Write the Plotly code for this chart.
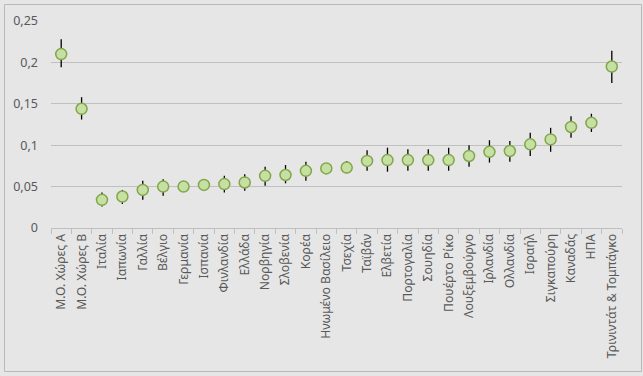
import plotly.graph_objects as go

categories = ["Μ.Ο. Χώρες Α", "Μ.Ο. Χώρες Β", "Ιταλία", "Ιαπωνία", "Γαλλία", "Βέλγιο",
              "Γερμανία", "Ισπανία", "Φινλανδία", "Ελλάδα", "Νορβηγία", "Σλοβενία", "Κορέα",
              "Ηνωμένο Βασίλειο", "Τσεχία", "Ταϊβάν", "Ελβετία", "Πορτογαλία", "Σουηδία",
              "Πουέρτο Ρίκο", "Λουξεμβούργο", "Ιρλανδία", "Ολλανδία", "Ισραήλ", "Σιγκαπούρη",
              "Καναδάς", "ΗΠΑ", "Τρινιντάτ & Τομπάγκο"]
values = [0.210, 0.144, 0.034, 0.038, 0.046, 0.050, 0.050, 0.052, 0.053, 0.055, 0.063, 0.064,
          0.069, 0.072, 0.073, 0.081, 0.082, 0.082, 0.082, 0.082, 0.087, 0.092, 0.093, 0.101,
          0.107, 0.122, 0.127, 0.195]
err_plus = [0.018, 0.014, 0.009, 0.008, 0.011, 0.009, 0.004, 0.004, 0.010, 0.010, 0.011, 0.012,
            0.011, 0.004, 0.008, 0.013, 0.015, 0.013, 0.013, 0.015, 0.013, 0.014, 0.012, 0.014,
            0.014, 0.013, 0.011, 0.019]
err_minus = [0.016, 0.013, 0.008, 0.009, 0.012, 0.011, 0.004, 0.004, 0.010, 0.010, 0.012, 0.010,
             0.012, 0.004, 0.007, 0.012, 0.014, 0.013, 0.013, 0.013, 0.013, 0.013, 0.013, 0.014,
             0.015, 0.013, 0.011, 0.020]
y_tickvals = [0, 0.05, 0.1, 0.15, 0.2, 0.25]
y_ticktext = ["0", "0,05", "0,1", "0,15", "0,2", "0,25"]

fig = go.Figure()
fig.add_trace(go.Scatter(
    x=categories, y=values, mode="markers",
    marker=dict(size=11, color="#c6e0a4", line=dict(color="#82a64a", width=1.5)),
    error_y=dict(type="data", symmetric=False, array=err_plus, arrayminus=err_minus,
                 color="#000000", thickness=1.3, width=0),
    showlegend=False,
))

fig.update_layout(
    width=643, height=376,
    margin=dict(l=51, r=21, t=21, b=148),
    paper_bgcolor="#e6e6e6", plot_bgcolor="#e6e6e6",
    font=dict(family="Noto Sans, sans-serif", size=12, color="#595959"),
    xaxis=dict(type="category", tickangle=-90, showgrid=False, showline=True,
               linecolor="#bfbfbf", linewidth=1, ticks="outside", tickson="boundaries",
               ticklen=5, tickcolor="#bfbfbf", tickfont=dict(size=12.2, color="#595959"),
               range=[-0.5, len(categories) - 0.5], automargin=False),
    yaxis=dict(range=[0, 0.25], tickvals=y_tickvals, ticktext=y_ticktext,
               showgrid=True, gridcolor="#c0c0c0", gridwidth=1, zeroline=False,
               showline=False, ticks="", tickfont=dict(size=12.5, color="#595959"),
               ticklabelstandoff=12, automargin=False),
    shapes=[dict(type="rect", xref="paper", yref="paper",
                 x0=(4.5 - 51) / 571, x1=(641.5 - 51) / 571,
                 y0=(228 - 371.5) / 207, y1=(228 - 4.5) / 207,
                 line=dict(color="#b8b8b8", width=1), fillcolor="rgba(0,0,0,0)", layer="above")],
)

fig.write_html("out.html", config={"displayModeBar": False},
               post_script="document.body.style.margin='0';document.body.style.background='#e6e6e6';")
